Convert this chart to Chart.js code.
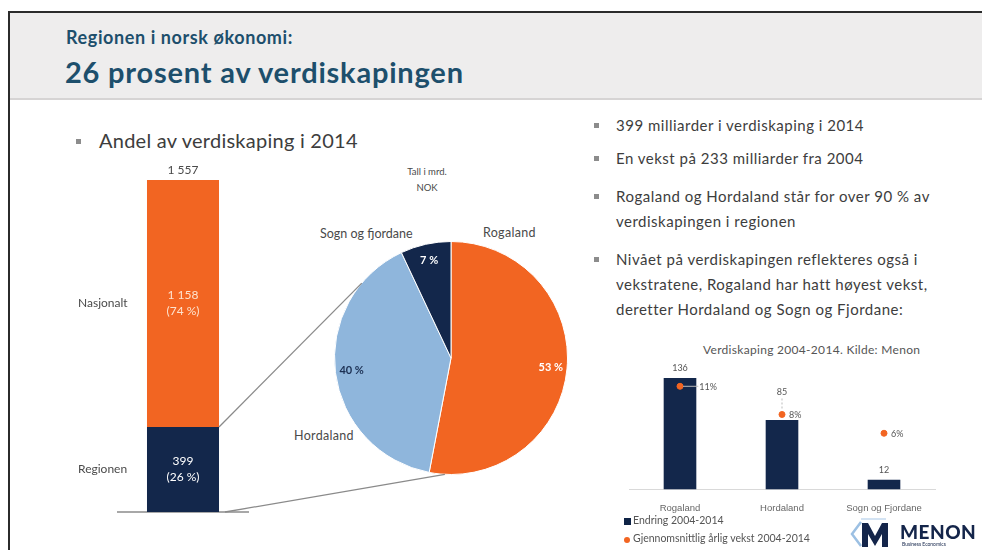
<!DOCTYPE html>
<html>
<head>
<meta charset="utf-8">
<script src="https://cdn.jsdelivr.net/npm/chart.js"></script>
<style>
  body { margin: 0; background: #fff; font-family: Lato, "Open Sans", sans-serif; }
  #slide { position: relative; width: 982px; height: 550px; overflow: hidden; background: #fff; }
  .abs { position: absolute; white-space: nowrap; }
  canvas { position: absolute; }
  #frameTop { left: 9px; top: 11px; width: 973px; height: 2px; background: #2b2b2b; }
  #frameLeft { left: 8px; top: 11px; width: 2px; height: 539px; background: #2b2b2b; }
  #header { left: 10px; top: 13px; width: 972px; height: 85px; background: #eeeded; border-bottom: 2px solid #d6d4d4; }
  .title1 { left: 66px; top: 27px; font-size: 18px; line-height: 20px; font-weight: 700; color: #1d4f6c; letter-spacing: 0.6px; }
  .title2 { left: 65px; top: 55px; font-size: 29px; line-height: 34px; font-weight: 700; color: #1d4f6c; letter-spacing: 0.8px; }
  .sq { position: absolute; width: 5px; height: 5px; background: #8c8c8c; }
  .txt { color: #3d3d3d; }
  .bul { font-size: 15px; line-height: 25px; letter-spacing: 0.5px; }
  .small { font-size: 12.5px; color: #4a4a4a; }
</style>
</head>
<body>
<div id="slide">
  <div id="header" class="abs"></div>
  <div id="frameTop" class="abs"></div>
  <div id="frameLeft" class="abs"></div>
  <div class="abs title1">Regionen i norsk økonomi:</div>
  <div class="abs title2">26 prosent av verdiskapingen</div>

  <div class="sq" style="left:76px;top:139px;"></div>
  <div class="abs txt" style="left:99px;top:128px;font-size:20px;line-height:24px;letter-spacing:0.25px;">Andel av verdiskaping i 2014</div>

  <div class="abs" style="left:397px;top:164px;width:60px;text-align:center;line-height:16px;font-size:9.5px;color:#4a4a4a;">Tall i mrd.<br>NOK</div>
  <div class="abs small" style="left:320px;top:226px;">Sogn og fjordane</div>
  <div class="abs small" style="left:483px;top:225px;letter-spacing:0.3px;">Rogaland</div>
  <div class="abs small" style="left:294px;top:428px;letter-spacing:0.3px;">Hordaland</div>

  <div class="sq" style="left:594px;top:123px;"></div>
  <div class="sq" style="left:594px;top:156px;"></div>
  <div class="sq" style="left:594px;top:194px;"></div>
  <div class="sq" style="left:594px;top:257px;"></div>
  <div class="abs txt bul" style="left:616px;top:113px;">399 milliarder i verdiskaping i 2014</div>
  <div class="abs txt bul" style="left:616px;top:146px;">En vekst på 233 milliarder fra 2004</div>
  <div class="abs txt bul" style="left:616px;top:184px;">Rogaland og Hordaland står for over 90 % av<br>verdiskapingen i regionen</div>
  <div class="abs txt bul" style="left:616px;top:247px;">Nivået på verdiskapingen reflekteres også i<br>vekstratene, Rogaland har hatt høyest vekst,<br>deretter Hordaland og Sogn og Fjordane:</div>

  <div class="abs" style="left:703px;top:342px;font-size:12px;letter-spacing:0.3px;color:#555;">Verdiskaping 2004-2014. Kilde: Menon</div>

  <canvas id="bar" width="200" height="360" style="left:60px;top:160px;"></canvas>
  <canvas id="pie" width="330" height="340" style="left:280px;top:150px;"></canvas>
  <canvas id="growth" width="370" height="215" style="left:600px;top:335px;"></canvas>

  <div class="abs" style="left:624px;top:518px;width:7px;height:7px;background:#0f2346;"></div>
  <div class="abs" style="left:633px;top:514px;font-size:10.5px;color:#555;">Endring 2004-2014</div>
  <div class="abs" style="left:624px;top:537px;width:6px;height:6px;border-radius:50%;background:#f26522;"></div>
  <div class="abs" style="left:633px;top:532px;font-size:10.5px;color:#555;">Gjennomsnittlig årlig vekst 2004-2014</div>

  <svg class="abs" style="left:850px;top:516px;" width="42" height="34" viewBox="0 0 42 34">
    <polyline points="11,6 2,18 11,30" fill="none" stroke="#9cc0e3" stroke-width="2.5"/>
    <polyline points="11,3 36,3" fill="none" stroke="#c4daef" stroke-width="1.5"/>
    <path d="M12 31 L12 7 L18 7 L25 20 L32 7 L38 7 L38 31 L32 31 L32 18 L25 30 L18 18 L18 31 Z" fill="#14254a"/>
  </svg>
  <div class="abs" style="left:900px;top:520px;font-size:19px;font-weight:900;color:#14254a;letter-spacing:0.5px;">MENON</div>
  <div class="abs" style="left:902px;top:541px;font-size:5px;color:#14254a;">Business Economics</div>

  <svg id="links" class="abs" style="left:0;top:0;pointer-events:none;" width="982" height="550">
    <line id="linkTop" stroke="#8a8a8a" stroke-width="1.3"/>
    <line id="linkBottom" stroke="#8a8a8a" stroke-width="1.3"/>
  </svg>
</div>

<script>
// --- data ---
const barCategories = ['2014'];
const barSeriesNames = ['Regionen', 'Nasjonalt'];
const regionValue = [399];
const nationalValue = [1158];

const pieLabels = ['Rogaland', 'Hordaland', 'Sogn og fjordane'];
const pieShares = [53, 40, 7];

const growthCategories = ['Rogaland', 'Hordaland', 'Sogn og Fjordane'];
const growthChange = [136, 85, 12];
const growthRate = [11, 8, 6];

const NAVY = '#13274b';
const ORANGE = '#f26522';
const LIGHTBLUE = '#8fb6dc';

const total = regionValue[0] + nationalValue[0];
const fmt = v => String(v).replace(/\B(?=(\d{3})+(?!\d))/g, ' ');

// labels in and above the stacked bar, plus series names on the left
const stackLabels = {
  id: 'stackLabels',
  afterDatasetsDraw(chart) {
    const ctx = chart.ctx;
    ctx.save();
    ctx.textAlign = 'center';
    ctx.textBaseline = 'middle';
    ctx.font = '12px Lato, sans-serif';
    chart.data.datasets.forEach((ds, i) => {
      const bar = chart.getDatasetMeta(i).data[0];
      const mid = (bar.y + bar.base) / 2;
      const v = ds.data[0];
      ctx.fillStyle = i === 0 ? '#ffffff' : '#fde3cf';
      ctx.fillText(fmt(v), bar.x, mid - 8);
      ctx.fillText('(' + Math.round(v / total * 100) + ' %)', bar.x, mid + 8);
      ctx.fillStyle = '#4a4a4a';
      ctx.textAlign = 'left';
      ctx.fillText(ds.label, chart.chartArea.left - 40, mid);
      ctx.textAlign = 'center';
    });
    const top = chart.getDatasetMeta(1).data[0];
    ctx.fillStyle = '#4a4a4a';
    ctx.fillText(fmt(total), top.x, top.y - 10);
    ctx.restore();
  }
};

const barChart = new Chart(document.getElementById('bar'), {
  type: 'bar',
  data: {
    labels: barCategories,
    datasets: [
      { label: barSeriesNames[0], data: regionValue, backgroundColor: NAVY, barPercentage: 0.554, categoryPercentage: 1 },
      { label: barSeriesNames[1], data: nationalValue, backgroundColor: ORANGE, barPercentage: 0.554, categoryPercentage: 1 }
    ]
  },
  options: {
    responsive: false, animation: false, devicePixelRatio: 1,
    layout: { padding: { left: 58, right: 12, top: 20, bottom: 8 } },
    plugins: { legend: { display: false }, tooltip: { enabled: false } },
    scales: {
      x: { stacked: true, grid: { display: false, drawTicks: false }, ticks: { display: false },
           border: { display: true, color: '#a8a8a8', width: 2 } },
      y: { stacked: true, display: false, min: 0, max: total }
    }
  },
  plugins: [stackLabels]
});

// percentage labels inside the pie
const pieValueLabels = {
  id: 'pieValueLabels',
  afterDatasetsDraw(chart) {
    const ctx = chart.ctx;
    const colors = ['#ffffff', '#1b2f52', '#ffffff'];
    ctx.save();
    ctx.font = 'bold 11px Lato, sans-serif';
    ctx.textAlign = 'center';
    ctx.textBaseline = 'middle';
    chart.getDatasetMeta(0).data.forEach((arc, i) => {
      const a = (arc.startAngle + arc.endAngle) / 2;
      const r = arc.outerRadius * 0.86;
      ctx.fillStyle = colors[i];
      ctx.fillText(pieShares[i] + ' %', arc.x + Math.cos(a) * r, arc.y + Math.sin(a) * r);
    });
    ctx.restore();
  }
};

const pieChart = new Chart(document.getElementById('pie'), {
  type: 'pie',
  data: {
    labels: pieLabels,
    datasets: [{ data: pieShares, backgroundColor: [ORANGE, LIGHTBLUE, NAVY], borderColor: '#ffffff', borderWidth: 1 }]
  },
  options: {
    responsive: false, animation: false, devicePixelRatio: 1,
    layout: { padding: { left: 54, right: 42, top: 91, bottom: 15 } },
    plugins: { legend: { display: false }, tooltip: { enabled: false } }
  },
  plugins: [pieValueLabels]
});

// value labels on the small growth chart
const growthLabels = {
  id: 'growthLabels',
  afterDatasetsDraw(chart) {
    const ctx = chart.ctx;
    const bars = chart.getDatasetMeta(0).data;
    const pts = chart.getDatasetMeta(1).data;
    ctx.save();
    ctx.font = '9px Lato, sans-serif';
    ctx.fillStyle = '#555';
    ctx.strokeStyle = '#bbb';
    ctx.lineWidth = 1;
    ctx.textBaseline = 'middle';
    bars.forEach((bar, i) => {
      const pt = pts[i];
      let ly = bar.y - 10;
      if (pt.y < bar.y && bar.y - pt.y < 20) {
        // dot sits just above the bar: lift the value over the dot
        ly = pt.y - 22;
        ctx.setLineDash([2, 2]);
        ctx.beginPath(); ctx.moveTo(bar.x, ly + 6); ctx.lineTo(bar.x, pt.y - 5); ctx.stroke();
        ctx.setLineDash([]);
      }
      ctx.textAlign = 'center';
      ctx.fillText(growthChange[i], bar.x, ly);
      // rate label, pushed outside the bar when the dot is inside it
      let lx = pt.x + 7;
      if (pt.y > bar.y) {
        lx = bar.x + bar.width / 2 + 3;
        ctx.beginPath(); ctx.moveTo(pt.x + 3, pt.y); ctx.lineTo(lx - 1, pt.y); ctx.stroke();
      }
      ctx.textAlign = 'left';
      ctx.fillText(growthRate[i] + '%', lx, pt.y + 1);
    });
    ctx.restore();
  }
};

const growthChart = new Chart(document.getElementById('growth'), {
  data: {
    labels: growthCategories,
    datasets: [
      { type: 'bar', label: 'Endring 2004-2014', data: growthChange, backgroundColor: NAVY,
        barPercentage: 0.32, categoryPercentage: 1, yAxisID: 'y', order: 2 },
      { type: 'line', label: 'Gjennomsnittlig årlig vekst 2004-2014', data: growthRate, showLine: false,
        pointRadius: 3, pointBackgroundColor: ORANGE, pointBorderColor: ORANGE, yAxisID: 'y2', order: 1 }
    ]
  },
  options: {
    responsive: false, animation: false, devicePixelRatio: 1,
    layout: { padding: { left: 29, right: 35, top: 25, bottom: 23 } },
    plugins: { legend: { display: false }, tooltip: { enabled: false } },
    scales: {
      x: { grid: { display: false, drawTicks: false }, border: { color: '#d9d9d9', width: 1 },
           ticks: { font: { size: 9.5 }, color: '#666', padding: 13 } },
      y: { display: false, min: 0, max: 158 },
      y2: { display: false, min: 0, max: 13.8, position: 'right' }
    }
  },
  plugins: [growthLabels]
});

// connector lines from the regional segment to the pie
(function drawLinks() {
  const navy = barChart.getDatasetMeta(0).data[0];
  const barBox = document.getElementById('bar');
  const pieBox = document.getElementById('pie');
  const bx = barBox.offsetLeft, by = barBox.offsetTop;
  const px = pieBox.offsetLeft, py = pieBox.offsetTop;
  const arc = pieChart.getDatasetMeta(0).data[0];
  const cx = px + arc.x, cy = py + arc.y, R = arc.outerRadius;
  const aTop = -140 * Math.PI / 180, aBot = 93 * Math.PI / 180;
  const t = document.getElementById('linkTop');
  t.setAttribute('x1', bx + navy.x + navy.width / 2);
  t.setAttribute('y1', by + navy.y);
  t.setAttribute('x2', cx + Math.cos(aTop) * R);
  t.setAttribute('y2', cy + Math.sin(aTop) * R);
  const b = document.getElementById('linkBottom');
  b.setAttribute('x1', bx + navy.x + navy.width / 2 + 6);
  b.setAttribute('y1', by + navy.base);
  b.setAttribute('x2', cx + Math.cos(aBot) * R);
  b.setAttribute('y2', cy + Math.sin(aBot) * R);
})();
</script>
</body>
</html>
